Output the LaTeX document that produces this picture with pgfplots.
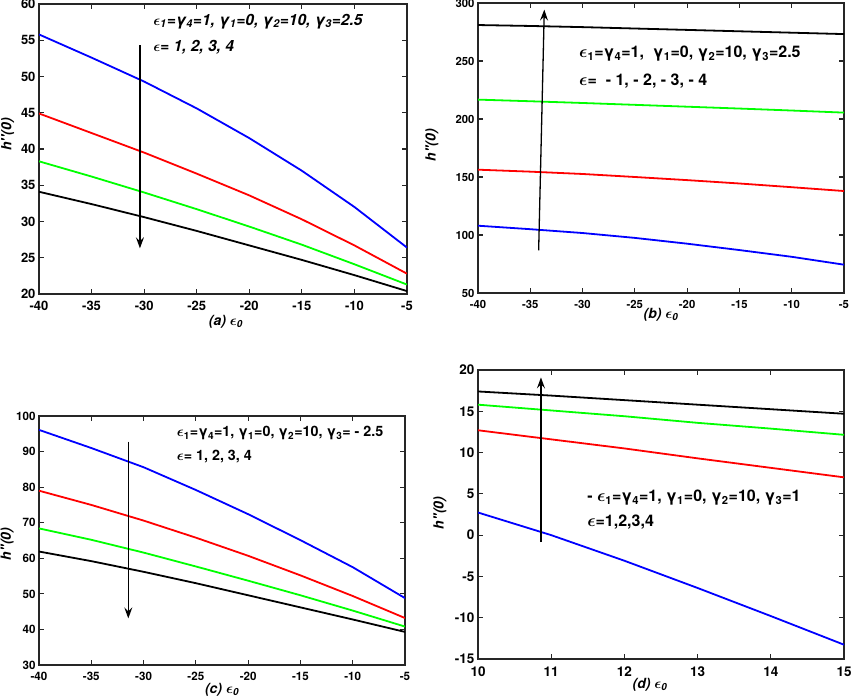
\documentclass[border=0pt]{standalone}
\usepackage{fontspec}
\setmainfont{TeX Gyre Heros}
\usepackage{amsmath}
\usepackage{pgfplots}
\pgfplotsset{compat=1.18}
\usetikzlibrary{arrows.meta}
\definecolor{mgreen}{rgb}{0,1,0}
\definecolor{mblue}{rgb}{0,0,1}
\definecolor{mred}{rgb}{1,0,0}
\newcommand{\eps}{$\boldsymbol{\epsilon}$}
\newcommand{\hpp}{h\textquotesingle\textquotesingle(0)}
\pgfplotsset{
  myax/.style={
    scale only axis, anchor=south west,
    axis line style={line width=1.1pt, black!85},
    every tick/.style={line width=1.1pt, black!85},
    major tick length=5pt,
    /pgf/number format/assume math mode=true,
    label style={font=\fontsize{14}{16}\selectfont\bfseries\itshape},
    every axis plot/.append style={line width=1.8pt, no marks},
    x tick label style={yshift=-4pt},
  },
  tf/.style={tick label style={font=\fontsize{#1}{#1}\selectfont\bfseries}},
  xl/.style 2 args={xlabel style={at={(axis description cs:#1,#2)}, anchor=center}},
  yl/.style 2 args={ylabel style={at={(axis description cs:#1,#2)}, anchor=center, rotate=0}},
}
\tikzset{
  ann/.style={anchor=base west, inner sep=0pt, font=\fontsize{#1}{#1}\selectfont\bfseries},
  anni/.style={anchor=base west, inner sep=0pt, font=\fontsize{#1}{#1}\selectfont\bfseries\itshape},
  arr/.style={line width=1.3pt, -{Stealth[length=11pt,width=8pt,inset=4pt]}},
}
\begin{document}
\begin{tikzpicture}
\path[use as bounding box] (0,0) rectangle (851pt,698pt);
% (a)
\begin{axis}[myax, at={(39pt,404pt)}, width=368pt, height=290pt, tf=13,
  xl={0.508}{-0.097}, yl={-0.085}{0.55},
  xmin=-40, xmax=-5, ymin=20, ymax=60, xtick={-40,-35,...,-5}, ytick={20,25,...,60},
  xlabel={(a) \eps\textsubscript{0}}, ylabel={\hpp}]
\addplot[mblue] coordinates {(-40,55.8) (-35,52.6) (-30,49.3) (-25,45.6) (-20,41.5) (-15,37.0) (-10,32.0) (-5,26.4)};
\addplot[mred] coordinates {(-40,44.9) (-35,42.2) (-30,39.5) (-25,36.6) (-20,33.6) (-15,30.3) (-10,26.7) (-5,22.8)};
\addplot[mgreen] coordinates {(-40,38.3) (-35,36.2) (-30,34.0) (-25,31.7) (-20,29.3) (-15,26.8) (-10,24.1) (-5,21.3)};
\addplot[black] coordinates {(-40,34.1) (-35,32.4) (-30,30.6) (-25,28.7) (-20,26.7) (-15,24.7) (-10,22.6) (-5,20.4)};
\draw[arr] (axis cs:-30.4,54.3) -- (axis cs:-30.4,26.3);
\node[anni=15.5] at (axis cs:-29.15,57.1) {\eps\textsubscript{1}=γ\textsubscript{4}=1, γ\textsubscript{1}=0, γ\textsubscript{2}=10, γ\textsubscript{3}=2.5};
\node[anni=15.5] at (axis cs:-29.15,53.4) {\eps= 1, 2, 3, 4};
\end{axis}
% (b)
\begin{axis}[myax, at={(478pt,405pt)}, width=366pt, height=290pt, tf=11.3,
  xl={0.5}{-0.076}, yl={-0.126}{0.51},
  xmin=-40, xmax=-5, ymin=50, ymax=300, xtick={-40,-35,...,-5}, ytick={50,100,...,300},
  xlabel={(b) \eps\textsubscript{0}}, ylabel={\hpp}]
\addplot[black] coordinates {(-40,281) (-35,280.2) (-30,279.2) (-25,278) (-20,276.8) (-15,275.6) (-10,274.4) (-5,273.2)};
\addplot[mgreen] coordinates {(-40,216.7) (-35,215.3) (-30,213.8) (-25,212.2) (-20,210.6) (-15,209.0) (-10,207.3) (-5,205.5)};
\addplot[mred] coordinates {(-40,156.3) (-35,154.6) (-30,152.6) (-25,150.0) (-20,147.3) (-15,144.4) (-10,141.2) (-5,137.9)};
\addplot[mblue] coordinates {(-40,108) (-35,105) (-30,101.7) (-25,97.5) (-20,92.5) (-15,87) (-10,81.2) (-5,74.4)};
\draw[arr] (axis cs:-34.2,86.8) -- (axis cs:-33.66,294.3);
\node[ann=16] at (axis cs:-30.34,252.6) {\eps\textsubscript{1}=γ\textsubscript{4}=1,\ \ γ\textsubscript{1}=0, γ\textsubscript{2}=10, γ\textsubscript{3}=2.5};
\node[ann=16] at (axis cs:-30.34,229.3) {\eps=\ \ - 1, - 2, - 3, - 4};
\end{axis}
% (c)
\begin{axis}[myax, at={(39pt,33pt)}, width=366pt, height=249pt, tf=11.6,
  xl={0.5}{-0.1}, yl={-0.087}{0.486},
  xmin=-40, xmax=-5, ymin=30, ymax=100, xtick={-40,-35,...,-5}, ytick={30,40,...,100},
  xlabel={(c) \eps\textsubscript{0}}, ylabel={\hpp}]
\addplot[mblue] coordinates {(-40,96.1) (-35,91.0) (-30,85.6) (-25,79.2) (-20,72.4) (-15,65.1) (-10,57.5) (-5,48.8)};
\addplot[mred] coordinates {(-40,79.0) (-35,75.0) (-30,70.6) (-25,65.8) (-20,60.7) (-15,55.2) (-10,49.4) (-5,43.2)};
\addplot[mgreen] coordinates {(-40,68.4) (-35,65.2) (-30,61.6) (-25,57.7) (-20,53.7) (-15,49.6) (-10,45.3) (-5,40.8)};
\addplot[black] coordinates {(-40,61.9) (-35,59.2) (-30,56.2) (-25,53.0) (-20,49.6) (-15,46.2) (-10,42.8) (-5,39.3)};
\draw[arr] (axis cs:-31.46,92.8) -- (axis cs:-31.46,43.1);
\node[ann=14.3] at (axis cs:-26.83,94.1) {\eps\textsubscript{1}=γ\textsubscript{4}=1, γ\textsubscript{1}=0, γ\textsubscript{2}=10, γ\textsubscript{3}= - 2.5};
\node[ann=14.3] at (axis cs:-26.83,87.6) {\eps= 1, 2, 3, 4};
\end{axis}
% (d)
\begin{axis}[myax, at={(478pt,39pt)}, width=366pt, height=289pt, tf=13.5,
  xl={0.47}{-0.09}, yl={-0.104}{0.505},
  xmin=10, xmax=15, ymin=-15, ymax=20, xtick={10,...,15}, ytick={-15,-10,...,20},
  xlabel={(d) \eps\textsubscript{0}}, ylabel={\hpp}]
\addplot[black] coordinates {(10,17.4) (11,16.9) (12,16.35) (13,15.8) (14,15.25) (15,14.7)};
\addplot[mgreen] coordinates {(10,15.8) (11,15.1) (12,14.4) (13,13.6) (14,12.9) (15,12.15)};
\addplot[mred] coordinates {(10,12.7) (11,11.6) (12,10.5) (13,9.3) (14,8.15) (15,7.0)};
\addplot[mblue] coordinates {(10,2.74) (11,0.0) (12,-3.1) (13,-6.4) (14,-9.8) (15,-13.27)};
\draw[arr] (axis cs:10.86,-0.85) -- (axis cs:10.86,19.1);
\node[ann=16] at (axis cs:11.49,4.05) {- \eps\textsubscript{1}=γ\textsubscript{4}=1, γ\textsubscript{1}=0, γ\textsubscript{2}=10, γ\textsubscript{3}=1};
\node[ann=16] at (axis cs:11.49,1.02) {\eps=1,2,3,4};
\end{axis}
\end{tikzpicture}
\end{document}
